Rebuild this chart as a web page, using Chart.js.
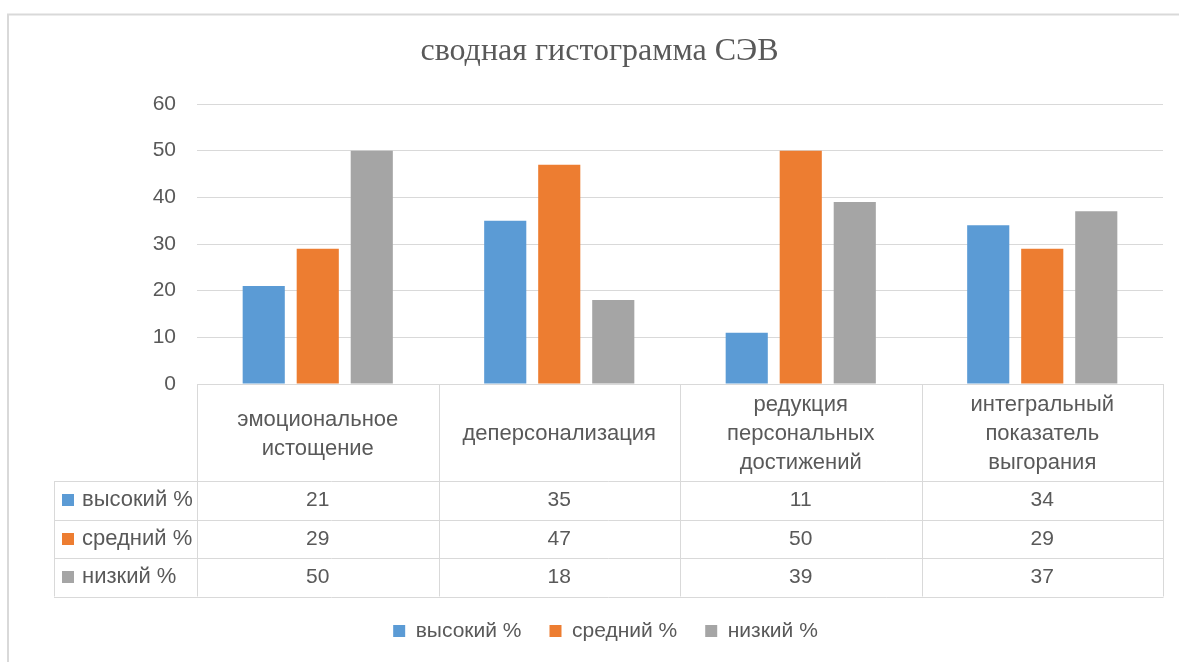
<!DOCTYPE html>
<html><head><meta charset="utf-8">
<script src="https://cdn.jsdelivr.net/npm/chart.js@4.4.1/dist/chart.umd.min.js"></script>
<style>html,body{margin:0;padding:0;background:#fff;overflow:hidden}canvas{display:block}</style>
</head><body><canvas id="c" width="1179" height="662"></canvas>
<script>
const chartTitle = 'сводная гистограмма СЭВ';
const categories = [
  ['эмоциональное', 'истощение'],
  ['деперсонализация'],
  ['редукция', 'персональных', 'достижений'],
  ['интегральный', 'показатель', 'выгорания']
];
const seriesNames = ['высокий %', 'средний %', 'низкий %'];
const highValues = [21, 35, 11, 34];
const midValues = [29, 47, 50, 29];
const lowValues = [50, 18, 39, 37];
const yTicks = [0, 10, 20, 30, 40, 50, 60];
const seriesColors = ['#5B9BD5', '#ED7D31', '#A5A5A5'];

const TEXT = '#595959';
const GRID = '#D9D9D9';
const SANS = '"Liberation Sans", Arial, sans-serif';
Chart.defaults.font.family = SANS;
Chart.defaults.color = TEXT;

const frameAndTable = {
  id: 'frameAndTable',
  beforeDraw(chart) {
    const ctx = chart.ctx;
    ctx.save();
    ctx.fillStyle = '#fff';
    ctx.fillRect(0, 0, chart.width, chart.height);
    ctx.strokeStyle = GRID; ctx.lineWidth = 2;
    ctx.beginPath();
    ctx.moveTo(8, chart.height); ctx.lineTo(8, 14.5); ctx.lineTo(chart.width, 14.5);
    ctx.stroke();
    ctx.restore();
  },
  afterDraw(chart) {
    const ctx = chart.ctx, xs = chart.scales.x, area = chart.chartArea;
    const n = chart.data.labels.length;
    const half = (area.right - area.left) / n / 2;
    const top = area.bottom, headB = 481, rowH = 38.5, tableL = 54;
    const rows = chart.data.datasets.length;
    const bottom = headB + rows * rowH;
    ctx.save();
    ctx.strokeStyle = GRID; ctx.lineWidth = 1;
    const line = (x1, y1, x2, y2) => { ctx.beginPath(); ctx.moveTo(x1, y1); ctx.lineTo(x2, y2); ctx.stroke(); };
    for (let i = 0; i <= n; i++) {
      const px = Math.round(i < n ? xs.getPixelForValue(i) - half : xs.getPixelForValue(n - 1) + half) + 0.5;
      line(px, top, px, bottom);
    }
    line(tableL + 0.5, headB, tableL + 0.5, bottom);
    for (let r = 0; r <= rows; r++) {
      const py = Math.round(headB + r * rowH) + 0.5;
      line(tableL, py, area.right + 0.5, py);
    }
    ctx.textBaseline = 'middle';
    ctx.textAlign = 'center';
    ctx.fillStyle = TEXT;
    ctx.font = '22px ' + SANS;
    chart.data.labels.forEach((lab, i) => {
      const lines = Array.isArray(lab) ? lab : [lab];
      const cx = xs.getPixelForValue(i);
      const cy = 434;
      lines.forEach((t, k) => ctx.fillText(t, cx, cy + (k - (lines.length - 1) / 2) * 29));
    });
    chart.data.datasets.forEach((ds, r) => {
      const cy = headB + r * rowH + rowH / 2;
      ctx.fillStyle = TEXT; ctx.textAlign = 'center';
      ctx.font = '21px ' + SANS;
      ds.data.forEach((v, i) => ctx.fillText(String(v), xs.getPixelForValue(i), cy));
      ctx.fillStyle = ds.backgroundColor;
      ctx.fillRect(62, Math.round(cy - 6), 12, 12);
      ctx.fillStyle = TEXT; ctx.textAlign = 'left';
      ctx.font = '22px ' + SANS;
      ctx.fillText(ds.label, 82, cy);
    });
    ctx.restore();
  }
};

const blockShift = {
  id: 'blockShift',
  afterLayout(chart) {
    const l = chart.legend;
    if (l) { l.left += 24; l.right += 24; }
    const t = chart.titleBlock;
    if (t) { t.left += 18; t.right += 18; }
  }
};

new Chart(document.getElementById('c'), {
  type: 'bar',
  data: {
    labels: categories,
    datasets: [
      { label: seriesNames[0], data: highValues, backgroundColor: seriesColors[0], borderWidth: 0 },
      { label: seriesNames[1], data: midValues, backgroundColor: seriesColors[1], borderWidth: 0 },
      { label: seriesNames[2], data: lowValues, backgroundColor: seriesColors[2], borderWidth: 0 }
    ]
  },
  options: {
    responsive: false,
    animation: false,
    events: [],
    devicePixelRatio: 1,
    layout: { padding: { top: 20, right: 16, bottom: 10.5, left: 0 } },
    datasets: { bar: { categoryPercentage: 0.671, barPercentage: 0.78 } },
    scales: {
      x: {
        ticks: { display: false },
        grid: { display: false },
        border: { display: true, color: GRID, width: 1 },
        afterFit(s) { s.height = 208.5; }
      },
      y: {
        min: yTicks[0],
        max: yTicks[yTicks.length - 1],
        afterBuildTicks(s) { s.ticks = yTicks.map(v => ({ value: v })); },
        ticks: { font: { size: 21 }, color: TEXT, padding: 21 },
        grid: { color: GRID, drawTicks: false, lineWidth: 1 },
        border: { display: false },
        afterFit(s) { s.width = 197; }
      }
    },
    plugins: {
      title: {
        display: true,
        text: chartTitle,
        color: TEXT,
        font: { family: '"Liberation Serif", "Times New Roman", serif', size: 32, weight: 'normal' },
        padding: { top: 12.5, bottom: 33.1 }
      },
      legend: {
        display: true,
        position: 'bottom',
        labels: { boxWidth: 12, boxHeight: 12, padding: 28, color: TEXT, font: { size: 21 } }
      },
      tooltip: { enabled: false }
    }
  },
  plugins: [frameAndTable, blockShift]
});
</script>
</body></html>
